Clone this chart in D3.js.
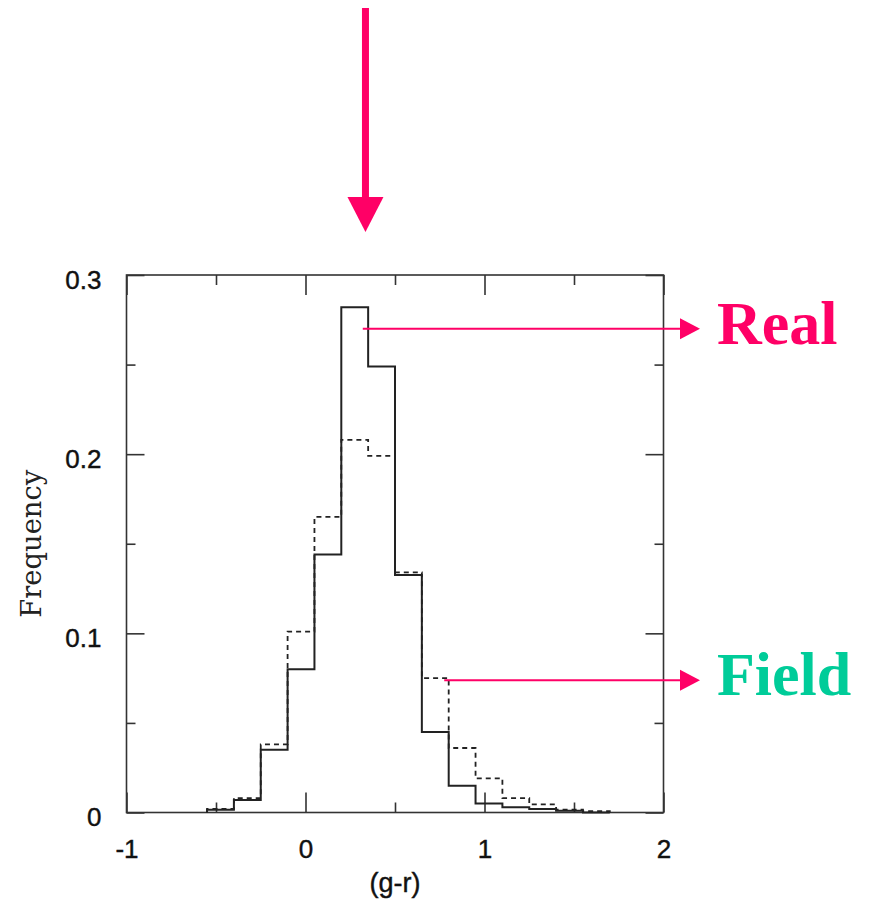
<!DOCTYPE html>
<html>
<head>
<meta charset="utf-8">
<script src="https://d3js.org/d3.v7.min.js"></script>
<style>
body { margin: 0; background: #fff; }
svg { display: block; }
.tick text { font-family: "Liberation Sans", Arial, sans-serif; font-size: 26px; fill: #111; stroke: #111; stroke-width: 0.4; }
.tick line { stroke: #333; stroke-width: 1.6; }
</style>
</head>
<body>
<div id="canvas"></div>
<script>
// bin left edges, bins are 0.15 wide
var binStart = [-0.55, -0.4, -0.25, -0.1, 0.05, 0.2, 0.35, 0.5, 0.65, 0.8, 0.95, 1.1, 1.25, 1.4, 1.55];
var binWidth = 0.15;
var realFreq  = [0.0015, 0.007, 0.035, 0.080, 0.144, 0.282, 0.249, 0.1325, 0.045, 0.015, 0.005, 0.003, 0.002, 0.001, 0];
var fieldFreq = [0.002, 0.008, 0.038, 0.101, 0.165, 0.208, 0.199, 0.134, 0.075, 0.036, 0.019, 0.008, 0.0045, 0.0016, 0.0008];

var xMajor = [-1, 0, 1, 2];
var xMinor = [-0.5, 0.5, 1.5];
var yMajor = [0, 0.1, 0.2, 0.3];
var yMinor = [0.05, 0.15, 0.25];

// labels with arrows: [text, colour, arrow start x, y]
var labels = [
  {name: "Real",  color: "#ff0066", x: 0.32, y: 0.270},
  {name: "Field", color: "#00cc99", x: 0.775, y: 0.0738}
];
var markX = 0.335; // big arrow above the plot

var pink = "#ff0066";

var svg = d3.select("#canvas").append("svg").attr("width", 874).attr("height", 912);
svg.append("rect").attr("width", 874).attr("height", 912).attr("fill", "#fff");

var x = d3.scaleLinear().domain([-1, 2]).range([126.5, 663.5]);
var y = d3.scaleLinear().domain([0, 0.3]).range([812.5, 275]);

function noDomain(g){ g.select(".domain").remove(); }

// ticks (all pointing inwards)
svg.append("g").attr("transform", "translate(0,812.5)")
  .call(d3.axisBottom(x).tickValues(xMajor).tickSizeInner(-20).tickSizeOuter(0).tickPadding(27)
    .tickFormat(function(d){ return d < 0 ? "-" + Math.abs(d) : d; }))
  .call(noDomain);
svg.append("g").attr("transform", "translate(0,812.5)")
  .call(d3.axisBottom(x).tickValues(xMinor).tickSizeInner(-10).tickSizeOuter(0).tickFormat(""))
  .call(noDomain);
svg.append("g").attr("transform", "translate(0,275)")
  .call(d3.axisTop(x).tickValues(xMajor).tickSizeInner(-20).tickSizeOuter(0).tickFormat(""))
  .call(noDomain);
svg.append("g").attr("transform", "translate(0,275)")
  .call(d3.axisTop(x).tickValues(xMinor).tickSizeInner(-10).tickSizeOuter(0).tickFormat(""))
  .call(noDomain);

var yl = svg.append("g").attr("transform", "translate(126.5,0)")
  .call(d3.axisLeft(y).tickValues(yMajor).tickSizeInner(-18).tickSizeOuter(0).tickPadding(25)
    .tickFormat(function(d){ return d === 0 ? "0" : d3.format(".1f")(d); }))
  .call(noDomain);
yl.selectAll("text").attr("dy", "0.5em");
svg.append("g").attr("transform", "translate(126.5,0)")
  .call(d3.axisLeft(y).tickValues(yMinor).tickSizeInner(-9).tickSizeOuter(0).tickFormat(""))
  .call(noDomain);
svg.append("g").attr("transform", "translate(663.5,0)")
  .call(d3.axisRight(y).tickValues(yMajor).tickSizeInner(-18).tickSizeOuter(0).tickFormat(""))
  .call(noDomain);
svg.append("g").attr("transform", "translate(663.5,0)")
  .call(d3.axisRight(y).tickValues(yMinor).tickSizeInner(-9).tickSizeOuter(0).tickFormat(""))
  .call(noDomain);

// frame
svg.append("rect")
  .attr("x", x(-1)).attr("y", y(0.3))
  .attr("width", x(2) - x(-1)).attr("height", y(0) - y(0.3))
  .attr("fill", "none").attr("stroke", "#333").attr("stroke-width", 1.6);

// histogram outlines
function stepPoints(vals){
  var pts = [[binStart[0], 0]];
  vals.forEach(function(v, i){ pts.push([binStart[i], v]); });
  var last = binStart.length - 1;
  pts.push([binStart[last] + binWidth, 0]);
  return pts;
}
var step = d3.line().x(function(d){ return x(d[0]); }).y(function(d){ return y(d[1]); }).curve(d3.curveStepAfter);

svg.append("path").attr("d", step(stepPoints(fieldFreq)))
  .attr("fill", "none").attr("stroke", "#222").attr("stroke-width", 1.8)
  .attr("stroke-dasharray", "5,4");
svg.append("path").attr("d", step(stepPoints(realFreq)))
  .attr("fill", "none").attr("stroke", "#222").attr("stroke-width", 2);

// axis titles
svg.append("text").attr("x", x(0.5)).attr("y", 892)
  .attr("text-anchor", "middle")
  .style("font-family", "'Liberation Sans', Arial, sans-serif").style("font-size", "27px")
  .attr("fill", "#111").attr("stroke", "#111").attr("stroke-width", 0.4)
  .text("(g-r)");
svg.append("text")
  .attr("transform", "translate(41," + y(0.15) + ") rotate(-90)")
  .attr("text-anchor", "middle")
  .attr("textLength", 148).attr("lengthAdjust", "spacingAndGlyphs")
  .style("font-family", "'DejaVu Serif', serif").style("font-size", "27px").attr("fill", "#222")
  .text("Frequency");

// big arrow above the peak
svg.append("line")
  .attr("x1", x(markX)).attr("x2", x(markX))
  .attr("y1", 8).attr("y2", 198)
  .attr("stroke", pink).attr("stroke-width", 7);
svg.append("path")
  .attr("d", "M" + (x(markX) - 18) + ",197L" + (x(markX) + 18) + ",197L" + x(markX) + ",232Z")
  .attr("fill", pink);

// label arrows and texts
labels.forEach(function(l){
  var yy = y(l.y);
  svg.append("line")
    .attr("x1", x(l.x)).attr("x2", 682)
    .attr("y1", yy).attr("y2", yy)
    .attr("stroke", pink).attr("stroke-width", 2);
  svg.append("path")
    .attr("d", "M680," + (yy - 10.5) + "L700," + yy + "L680," + (yy + 10.5) + "Z")
    .attr("fill", pink);
  svg.append("text")
    .attr("x", 717).attr("y", yy + 15)
    .style("font-family", "'Liberation Serif', 'Times New Roman', serif")
    .style("font-size", "62px").style("font-weight", "bold")
    .attr("fill", l.color)
    .text(l.name);
});
</script>
</body>
</html>
